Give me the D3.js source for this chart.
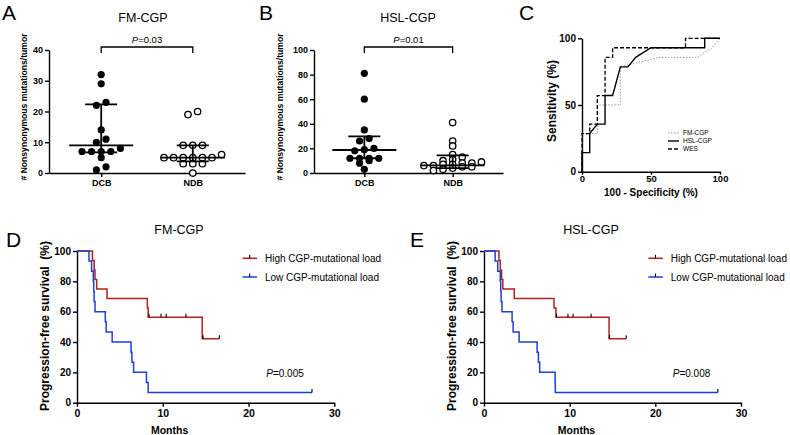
<!DOCTYPE html>
<html><head><meta charset="utf-8">
<script src="https://cdn.jsdelivr.net/npm/d3@7"></script>
<style>
body{margin:0;background:#fff}
svg{display:block}
text{font-family:Arial,'Liberation Sans',Helvetica,sans-serif;fill:#000}
</style>
</head><body>
<script>
// ---------------- DATA ----------------
const groupCats = ["DCB", "NDB"];
// Panel A  (FM-CGP)
const fmDCB = [32, 29, 23, 22, 14, 11, 10, 8, 7, 7, 7, 7, 5, 2, 1];
const fmNDB = [20, 19, 9, 9, 9, 6, 5, 5, 5, 5, 5, 5, 3, 3, 3, 0];
const fmMedian = [9, 5];
const fmQ1 = [6.7, 3.8];
const fmQ3 = [22.3, 9];
const fmYTicks = [0, 10, 20, 30, 40];
// Panel B  (HSL-CGP)
const hslDCB = [81, 60, 35, 28, 26, 20, 19, 18, 12, 12, 12, 12, 10, 8, 3];
const hslNDB = [41, 26, 22, 15, 13, 11, 10, 9, 8, 8, 7, 7, 6, 6, 5, 5, 4, 3, 2];
const hslMedian = [18.7, 6.2];
const hslQ1 = [12, 4];
const hslQ3 = [29.8, 14.4];
const hslYTicks = [0, 20, 40, 60, 80, 100];
// Panel C  ROC  [100-specificity %, sensitivity %]
const rocFM  = [[0,0],[0,28.6],[11.1,28.6],[11.1,50],[27.8,50],[27.8,78.6],[55.6,85.7],[83.3,85.7],[94.4,92.9],[100,100]];
const rocHSL = [[0,0],[0,14.3],[5.6,14.3],[5.6,28.6],[11.1,35.7],[16.7,35.7],[16.7,57.1],[22.2,57.1],[27.8,78.6],[33.3,78.6],[38.9,85.7],[50,92.9],[88.9,92.9],[88.9,100],[100,100]];
const rocWES = [[0,0],[0,28.6],[5.6,28.6],[5.6,35.7],[11.1,35.7],[11.1,57.1],[16.7,57.1],[16.7,85.7],[22.2,85.7],[22.2,92.9],[75,92.9],[75,100],[100,100]];
const rocNames = ["FM-CGP", "HSL-CGP", "WES"];
const rocTicks = [0, 50, 100];
// Panel D  KM (FM-CGP)   [months, PFS %]
const kmFMHigh = [[0,100],[1.8,93.75],[2.0,87.5],[2.1,81.25],[2.3,75],[3.5,68.75],[8.2,62.5],[8.3,56.25],[14.6,42.19],[16.6,42.19]];
const kmFMHighCens = [[8.4,56.25],[9.8,56.25],[10.4,56.25],[12.7,56.25],[14.7,42.19],[16.6,42.19]];
const kmFMLow = [[0,100],[1.4,93.33],[1.7,86.67],[1.9,80],[1.95,73.33],[2.0,66.67],[2.1,60],[3.3,53.33],[3.4,46.67],[4.1,40],[6.3,33.33],[6.4,26.67],[6.6,20],[8.1,13.33],[8.3,6.67],[27.4,6.67]];
const kmFMLowCens = [[27.4,6.67]];
// Panel E  KM (HSL-CGP)
const kmHSLHigh = [[0,100],[1.75,93.75],[1.9,87.5],[2.05,81.25],[2.2,75],[3.53,68.75],[8.17,62.5],[8.4,56.25],[14.6,42.19],[16.6,42.19]];
const kmHSLHighCens = [[8.45,56.25],[9.8,56.25],[10.4,56.25],[12.5,56.25],[14.65,42.19],[16.6,42.19]];
const kmHSLLow = [[0,100],[1.3,93.33],[1.6,86.67],[1.9,80],[1.95,73.33],[2.0,66.67],[2.1,60],[3.28,53.33],[3.4,46.67],[4.1,40],[6.2,33.33],[6.35,26.67],[6.5,20],[8.3,13.33],[8.32,6.67],[27.3,6.67]];
const kmHSLLowCens = [[27.3,6.67]];
const kmXTicks = [0, 10, 20, 30];
const kmYTicks = [0, 20, 40, 60, 80, 100];
const kmLegend = ["High CGP-mutational load", "Low CGP-mutational load"];
const kmColors = ["#b3201e", "#1e3fd8"];

// ---------------- DRAW ----------------
const svg = d3.select("body").append("svg").attr("width", 790).attr("height", 435);

function styleAxis(g, fs) {
  g.selectAll(".domain").attr("stroke", "#000").attr("stroke-width", 1.4);
  g.selectAll(".tick line").attr("stroke", "#000").attr("stroke-width", 1.4);
  g.selectAll(".tick text").attr("font-size", fs).attr("font-weight", "bold")
    .attr("font-family", "Arial,'Liberation Sans',sans-serif").attr("fill", "#000");
}

function rowLayout(vals, y, thr, step) {
  const idx = vals.map((v, i) => i).sort((a, b) => vals[a] - vals[b]);
  const off = new Array(vals.length).fill(0);
  let i = 0;
  while (i < idx.length) {
    const y0 = y(vals[idx[i]]);
    let j = i;
    while (j + 1 < idx.length && Math.abs(y(vals[idx[j + 1]]) - y0) < thr) j++;
    const n = j - i + 1;
    for (let k = 0; k < n; k++) off[idx[i + k]] = (k - (n - 1) / 2) * step;
    i = j + 1;
  }
  return off;
}

function pText(g, x, y, label, fs) {
  const t = g.append("text").attr("x", x).attr("y", y).attr("text-anchor", "middle").attr("font-size", fs);
  t.append("tspan").attr("font-style", "italic").text("P");
  t.append("tspan").text(label);
}

function scatterPanel(c) {
  const g = svg.append("g");
  const x = d3.scalePoint().domain(groupCats).range(c.xr).padding(0.57);
  const y = d3.scaleLinear().domain([0, c.ymax]).range([173, 50]);
  const ya = g.append("g").attr("transform", `translate(${c.xr[0]},0)`)
    .call(d3.axisLeft(y).tickValues(c.yticks).tickSize(4).tickSizeOuter(0).tickPadding(2));
  styleAxis(ya, 9);
  const xa = g.append("g").attr("transform", `translate(0,${y(0)})`)
    .call(d3.axisBottom(x).tickSize(4).tickSizeOuter(0).tickPadding(3));
  styleAxis(xa, 9);
  // y label
  g.append("text").attr("transform", `translate(${c.ylx},107) rotate(-90)`)
    .attr("text-anchor", "middle").attr("font-size", 8.6).attr("font-weight", "bold")
    .text("# Nonsynonymous mutations/tumor");
  // title
  g.append("text").attr("x", c.tx).attr("y", 22).attr("text-anchor", "middle").attr("font-size", 12.5).text(c.title);
  // panel letter
  g.append("text").attr("x", c.lx).attr("y", 20).attr("font-size", 21).text(c.letter);
  // bracket
  const bx1 = x("DCB"), bx2 = x("NDB");
  g.append("path").attr("d", `M${bx1},53V47H${bx2}V53`).attr("fill", "none").attr("stroke", "#000").attr("stroke-width", 1.3);
  pText(g, (bx1 + bx2) / 2, 43, c.p, 9.5);
  // points
  [c.dcb, c.ndb].forEach((vals, gi) => {
    const cx = x(groupCats[gi]);
    const off = rowLayout(vals, y, 4, 9.6);
    g.selectAll(null).data(vals).enter().append("circle")
      .attr("cx", (d, i) => cx + off[i]).attr("cy", d => y(d)).attr("r", gi === 0 ? 3.6 : 3.2)
      .attr("fill", gi === 0 ? "#000" : "#fff").attr("stroke", "#000").attr("stroke-width", gi === 0 ? 0 : 1.3);
    // median & IQR
    const ln = (x1, y1, x2, y2) => g.append("line").attr("x1", x1).attr("y1", y1).attr("x2", x2).attr("y2", y2)
      .attr("stroke", "#000").attr("stroke-width", 1.8);
    ln(cx, y(c.q1[gi]), cx, y(c.q3[gi]));
    ln(cx - 32, y(c.med[gi]), cx + 32, y(c.med[gi]));
    ln(cx - 16, y(c.q1[gi]), cx + 16, y(c.q1[gi]));
    ln(cx - 16, y(c.q3[gi]), cx + 16, y(c.q3[gi]));
  });
}

scatterPanel({xr: [49, 245], ymax: 40, yticks: fmYTicks, dcb: fmDCB, ndb: fmNDB, med: fmMedian, q1: fmQ1, q3: fmQ3,
  title: "FM-CGP", tx: 143, letter: "A", lx: 2, ylx: 27, p: "=0.03"});
scatterPanel({xr: [314, 503], ymax: 100, yticks: hslYTicks, dcb: hslDCB, ndb: hslNDB, med: hslMedian, q1: hslQ1, q3: hslQ3,
  title: "HSL-CGP", tx: 408, letter: "B", lx: 259, ylx: 283, p: "=0.01"});

// ---- Panel C ----
(function () {
  const g = svg.append("g");
  const x = d3.scaleLinear().domain([0, 100]).range([582, 720]);
  const y = d3.scaleLinear().domain([0, 100]).range([171.7, 38.3]);
  const ya = g.append("g").attr("transform", "translate(582,0)")
    .call(d3.axisLeft(y).tickValues(rocTicks).tickSize(4).tickSizeOuter(0).tickPadding(2));
  styleAxis(ya, 10);
  const xa = g.append("g").attr("transform", "translate(0,171.7)")
    .call(d3.axisBottom(x).tickValues(rocTicks).tickSize(3).tickSizeOuter(0).tickPadding(1));
  styleAxis(xa, 9.5);
  g.append("text").attr("transform", "translate(556,101) rotate(-90)").attr("text-anchor", "middle")
    .attr("font-size", 12).attr("font-weight", "bold").text("Sensitivity (%)");
  g.append("text").attr("x", 651).attr("y", 196).attr("text-anchor", "middle")
    .attr("font-size", 10).attr("font-weight", "bold").text("100 - Specificity (%)");
  g.append("text").attr("x", 519).attr("y", 20).attr("font-size", 21).text("C");
  const line = d3.line().x(d => x(d[0])).y(d => y(d[1]));
  const styles = [
    {stroke: "#999", w: 1, dash: "1.5,1.5"},
    {stroke: "#000", w: 1.4, dash: null},
    {stroke: "#000", w: 1.3, dash: "4,2"}
  ];
  [rocFM, rocHSL, rocWES].forEach((d, i) => {
    g.append("path").datum(d).attr("d", line).attr("fill", "none")
      .attr("stroke", styles[i].stroke).attr("stroke-width", styles[i].w).attr("stroke-dasharray", styles[i].dash);
  });
  rocNames.forEach((n, i) => {
    const yy = 133 + i * 8;
    g.append("line").attr("x1", 668).attr("x2", 679).attr("y1", yy).attr("y2", yy)
      .attr("stroke", styles[i].stroke).attr("stroke-width", styles[i].w).attr("stroke-dasharray", styles[i].dash);
    g.append("text").attr("x", 683).attr("y", yy + 2.3).attr("font-size", 6.5).text(n);
  });
})();

// ---- KM panels ----
function kmPanel(c) {
  const g = svg.append("g");
  const x = d3.scaleLinear().domain([0, 30]).range(c.xr);
  const y = d3.scaleLinear().domain([0, 100]).range([402.7, 251]);
  const ya = g.append("g").attr("transform", `translate(${c.xr[0]},0)`)
    .call(d3.axisLeft(y).tickValues(kmYTicks).tickSize(4).tickSizeOuter(0).tickPadding(2));
  styleAxis(ya, 10);
  const xa = g.append("g").attr("transform", "translate(0,402.7)")
    .call(d3.axisBottom(x).tickValues(kmXTicks).tickSize(4).tickSizeOuter(0).tickPadding(3));
  styleAxis(xa, 10.5);
  g.append("text").attr("transform", `translate(${c.xr[0] - 28},326) rotate(-90)`).attr("text-anchor", "middle")
    .attr("font-size", 12).attr("font-weight", "bold").attr("xml:space", "preserve").text("Progression-free survival  (%)");
  g.append("text").attr("x", x(10.8)).attr("y", 434).attr("text-anchor", "middle")
    .attr("font-size", 10.5).attr("font-weight", "bold").text("Months");
  g.append("text").attr("x", c.tx).attr("y", 234).attr("text-anchor", "middle").attr("font-size", 12.5).text(c.title);
  g.append("text").attr("x", c.lx).attr("y", 247).attr("font-size", 21).text(c.letter);
  pText(g, c.px, 377, c.p, 10);
  const line = d3.line().curve(d3.curveStepAfter).x(d => x(d[0])).y(d => y(d[1]));
  [c.high, c.low].forEach((d, i) => {
    g.append("path").datum(d).attr("d", line).attr("fill", "none").attr("stroke", kmColors[i]).attr("stroke-width", 1.5);
  });
  [c.highC, c.lowC].forEach(d => {
    g.selectAll(null).data(d).enter().append("line")
      .attr("x1", p => x(p[0])).attr("x2", p => x(p[0])).attr("y1", p => y(p[1])).attr("y2", p => y(p[1]) - 3.5)
      .attr("stroke", "#000").attr("stroke-width", 1.1);
  });
  kmLegend.forEach((n, i) => {
    const yy = 258.3 + i * 18.7;
    g.append("line").attr("x1", c.legx).attr("x2", c.legx + 14.5).attr("y1", yy).attr("y2", yy)
      .attr("stroke", kmColors[i]).attr("stroke-width", 1.5);
    g.append("line").attr("x1", c.legx + 7.2).attr("x2", c.legx + 7.2).attr("y1", yy).attr("y2", yy - 3.5)
      .attr("stroke", "#000").attr("stroke-width", 1.1);
    g.append("text").attr("x", c.legx + 22.5).attr("y", yy + 3.6).attr("font-size", 10).text(n);
  });
}

kmPanel({xr: [77, 334.3], high: kmFMHigh, low: kmFMLow, highC: kmFMHighCens, lowC: kmFMLowCens,
  title: "FM-CGP", tx: 179, letter: "D", lx: 6, p: "=0.005", px: 285, legx: 242.5});
kmPanel({xr: [484, 741], high: kmHSLHigh, low: kmHSLLow, highC: kmHSLHighCens, lowC: kmHSLLowCens,
  title: "HSL-CGP", tx: 591, letter: "E", lx: 410, p: "=0.008", px: 691.5, legx: 648.3});
</script>
</body></html>
